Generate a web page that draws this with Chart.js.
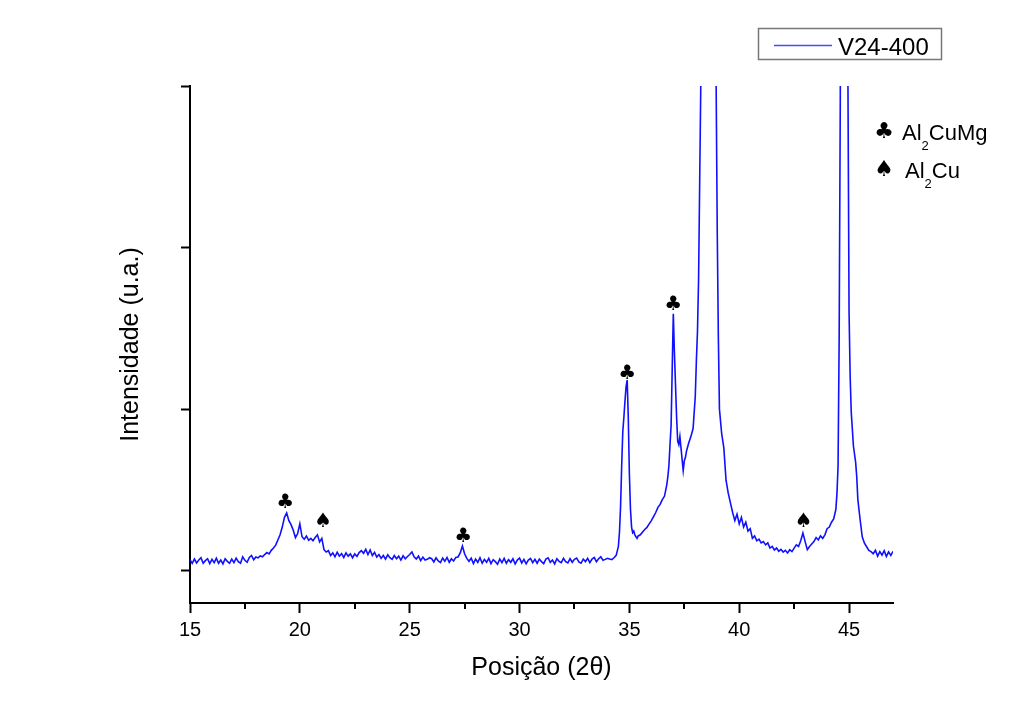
<!DOCTYPE html>
<html>
<head>
<meta charset="utf-8">
<title>V24-400</title>
<script src="https://cdn.jsdelivr.net/npm/chart.js@4.4.1/dist/chart.umd.min.js"></script>
<style>
  html, body { margin: 0; padding: 0; background: #ffffff; }
  #wrap { width: 1022px; height: 717px; }
</style>
</head>
<body>
<div id="wrap"><canvas id="xrd" width="1022" height="717"></canvas></div>
<script>
// Diffractogram of sample V24-400 (2θ in degrees, intensity in counts)
const twoTheta = [
  15.0, 15.1, 15.2, 15.3, 15.4, 15.5, 15.6, 15.7, 15.8, 15.9,
  16.0, 16.1, 16.2, 16.3, 16.4, 16.5, 16.6, 16.7, 16.8, 16.9,
  17.0, 17.1, 17.2, 17.3, 17.4, 17.5, 17.6, 17.7, 17.8, 17.9,
  18.0, 18.1, 18.2, 18.3, 18.4, 18.5, 18.6, 18.7, 18.8, 18.9,
  19.0, 19.1, 19.2, 19.3, 19.4, 19.5, 19.6, 19.7, 19.8, 19.9,
  20.0, 20.1, 20.2, 20.3, 20.4, 20.5, 20.6, 20.7, 20.8, 20.9,
  21.0, 21.1, 21.2, 21.3, 21.4, 21.5, 21.6, 21.7, 21.8, 21.9,
  22.0, 22.1, 22.2, 22.3, 22.4, 22.5, 22.6, 22.7, 22.8, 22.9,
  23.0, 23.1, 23.2, 23.3, 23.4, 23.5, 23.6, 23.7, 23.8, 23.9,
  24.0, 24.1, 24.2, 24.3, 24.4, 24.5, 24.6, 24.7, 24.8, 24.9,
  25.0, 25.1, 25.2, 25.3, 25.4, 25.5, 25.6, 25.7, 25.8, 25.9,
  26.0, 26.1, 26.2, 26.3, 26.4, 26.5, 26.6, 26.7, 26.8, 26.9,
  27.0, 27.1, 27.2, 27.3, 27.4, 27.5, 27.6, 27.7, 27.8, 27.9,
  28.0, 28.1, 28.2, 28.3, 28.4, 28.5, 28.6, 28.7, 28.8, 28.9,
  29.0, 29.1, 29.2, 29.3, 29.4, 29.5, 29.6, 29.7, 29.8, 29.9,
  30.0, 30.1, 30.2, 30.3, 30.4, 30.5, 30.6, 30.7, 30.8, 30.9,
  31.0, 31.1, 31.2, 31.3, 31.4, 31.5, 31.6, 31.7, 31.8, 31.9,
  32.0, 32.1, 32.2, 32.3, 32.4, 32.5, 32.6, 32.7, 32.8, 32.9,
  33.0, 33.1, 33.2, 33.3, 33.4, 33.5, 33.6, 33.7, 33.8, 33.9,
  34.0, 34.1, 34.2, 34.3, 34.4, 34.5, 34.55, 34.6, 34.65, 34.7,
  34.75, 34.8, 34.85, 34.9, 34.95, 35.0, 35.05, 35.1, 35.15, 35.2,
  35.25, 35.3, 35.35, 35.4, 35.5, 35.6, 35.7, 35.8, 35.9, 36.0,
  36.1, 36.2, 36.3, 36.4, 36.5, 36.6, 36.7, 36.75, 36.8, 36.85,
  36.9, 36.95, 37.0, 37.05, 37.1, 37.15, 37.2, 37.25, 37.3, 37.35,
  37.4, 37.45, 37.5, 37.55, 37.6, 37.7, 37.8, 37.9, 38.0, 38.05,
  38.1, 38.15, 38.2, 38.25, 38.3, 38.4, 38.5, 38.6, 38.7, 38.8,
  38.9, 38.95, 39.0, 39.05, 39.1, 39.2, 39.3, 39.4, 39.5, 39.6,
  39.7, 39.8, 39.9, 40.0, 40.1, 40.2, 40.3, 40.4, 40.5, 40.6,
  40.7, 40.8, 40.9, 41.0, 41.1, 41.2, 41.3, 41.4, 41.5, 41.6,
  41.7, 41.8, 41.9, 42.0, 42.1, 42.2, 42.3, 42.4, 42.5, 42.6,
  42.7, 42.8, 42.9, 43.0, 43.1, 43.2, 43.3, 43.4, 43.5, 43.6,
  43.7, 43.8, 43.9, 44.0, 44.1, 44.2, 44.3, 44.4, 44.45, 44.5,
  44.55, 44.6, 44.7, 44.8, 44.9, 44.95, 45.0, 45.05, 45.1, 45.2,
  45.3, 45.35, 45.4, 45.5, 45.6, 45.7, 45.8, 45.9, 46.0, 46.1,
  46.2, 46.3, 46.4, 46.5, 46.6, 46.7, 46.8, 46.9, 47.0
];
const intensity = [
  1068, 1045, 1072, 1048, 1066, 1080, 1046, 1062, 1074, 1044,
  1070, 1050, 1078, 1046, 1066, 1042, 1074, 1058, 1046, 1072,
  1050, 1078, 1056, 1046, 1086, 1064, 1052, 1082, 1094, 1068,
  1085, 1079, 1092, 1086, 1100, 1112, 1104, 1126, 1140, 1158,
  1190, 1222, 1270, 1330, 1357, 1310, 1285, 1250, 1205, 1230,
  1290, 1210, 1195, 1215, 1188, 1200, 1185, 1205, 1222, 1178,
  1200, 1130, 1116, 1124, 1094, 1110, 1086, 1114, 1090, 1106,
  1082, 1110, 1090, 1104, 1080, 1104, 1088, 1112, 1124, 1108,
  1132, 1100, 1128, 1094, 1114, 1084, 1100, 1076, 1094, 1072,
  1098, 1080, 1070, 1094, 1074, 1090, 1066, 1092, 1074, 1088,
  1100, 1116, 1086, 1072, 1090, 1062, 1084, 1066, 1070, 1080,
  1074, 1054, 1080, 1060, 1050, 1078, 1058, 1082, 1052, 1074,
  1060, 1082, 1085, 1110, 1153, 1105, 1076, 1058, 1078, 1044,
  1072, 1052, 1080, 1046, 1070, 1052, 1076, 1044, 1068, 1056,
  1040, 1072, 1050, 1076, 1046, 1068, 1052, 1074, 1042, 1066,
  1078, 1048, 1070, 1042, 1066, 1076, 1050, 1070, 1046, 1072,
  1056, 1044, 1072, 1080, 1052, 1066, 1042, 1074, 1058, 1050,
  1076, 1056, 1048, 1074, 1052, 1070, 1078, 1054, 1046, 1072,
  1056, 1076, 1050, 1072, 1082, 1056, 1074, 1086, 1064, 1070,
  1077, 1072, 1068, 1080, 1095, 1150, 1240, 1400, 1650, 1860,
  1950, 2050, 2140, 2180, 1950, 1600, 1380, 1270, 1235, 1245,
  1222, 1210, 1200, 1215, 1222, 1240, 1255, 1268, 1290, 1310,
  1335, 1360, 1392, 1410, 1440, 1462, 1530, 1580, 1650, 1780,
  1900, 2250, 2590, 2350, 2150, 1950, 1800, 1780, 1830, 1760,
  1690, 1620, 1680, 1700, 1740, 1790, 1830, 1880, 2080, 2300,
  2480, 2800, 3400, 4000, 5500, 9000, 13000, 12000, 8500, 6000,
  4600, 4000, 3100, 2450, 2000, 1850, 1760, 1560, 1480, 1420,
  1360, 1310, 1350, 1290, 1330, 1270, 1300, 1245, 1260, 1200,
  1215, 1185, 1195, 1172, 1180, 1160, 1172, 1140, 1150, 1128,
  1140, 1120, 1132, 1115, 1126, 1110, 1130, 1118, 1140, 1160,
  1150, 1185, 1233, 1180, 1130, 1150, 1165, 1180, 1205, 1190,
  1215, 1200, 1222, 1260, 1270, 1300, 1320, 1380, 1480, 1650,
  2450, 3900, 9000, 11000, 6000, 4000, 2600, 2200, 1980, 1770,
  1670, 1580, 1440, 1320, 1210, 1170, 1148, 1125, 1118, 1105,
  1126, 1090, 1118, 1096, 1124, 1088, 1116, 1094, 1120
];

// Phase identification marks: ♣ = Al2CuMg, ♠ = Al2Cu
const phaseAngle = [19.33, 21.06, 27.44, 34.9, 37.0, 42.94];
const phaseLevel = [1419, 1301, 1209, 2217, 2645, 1301];
const phaseSymbol = ['\u2663', '\u2660', '\u2663', '\u2663', '\u2663', '\u2660'];

const xTicks = [15, 20, 25, 30, 35, 40, 45];
const xMinorTicks = [17.5, 22.5, 27.5, 32.5, 37.5, 42.5];
const yTicks = [1000, 2000, 3000, 4000];

const seriesLabel = 'V24-400';
const LINE_COLOR = '#1010ff';
const FONT = '"Liberation Sans", Arial, sans-serif';
const SYMBOL_FONT = '"DejaVu Sans", sans-serif';

const points = twoTheta.map((t, i) => ({ x: t, y: intensity[i] }));

// Extra drawing: minor x ticks, phase symbols and the two legend boxes
const decorations = {
  id: 'decorations',
  beforeDraw(chart) {
    const ctx = chart.ctx;
    ctx.save();
    ctx.fillStyle = '#ffffff';
    ctx.fillRect(0, 0, chart.width, chart.height);
    ctx.restore();
  },
  afterDraw(chart) {
    const ctx = chart.ctx;
    const xs = chart.scales.x;
    const ys = chart.scales.y;
    const area = chart.chartArea;
    ctx.save();

    // minor ticks
    ctx.strokeStyle = '#000';
    ctx.lineWidth = 2;
    xMinorTicks.forEach(v => {
      const px = Math.round(xs.getPixelForValue(v));
      ctx.beginPath();
      ctx.moveTo(px, area.bottom);
      ctx.lineTo(px, area.bottom + 6);
      ctx.stroke();
    });

    // phase symbols above the peaks
    ctx.fillStyle = '#000';
    ctx.textAlign = 'center';
    ctx.textBaseline = 'middle';
    ctx.font = '20px ' + SYMBOL_FONT;
    phaseAngle.forEach((a, i) => {
      ctx.fillText(phaseSymbol[i], xs.getPixelForValue(a), ys.getPixelForValue(phaseLevel[i]));
    });

    // series legend
    ctx.strokeStyle = '#777';
    ctx.lineWidth = 1.5;
    ctx.strokeRect(758.5, 28.5, 183, 31);
    ctx.strokeStyle = '#4848ff';
    ctx.lineWidth = 1.5;
    ctx.beginPath();
    ctx.moveTo(774, 45.5);
    ctx.lineTo(832, 45.5);
    ctx.stroke();
    ctx.fillStyle = '#000';
    ctx.textAlign = 'left';
    ctx.textBaseline = 'alphabetic';
    ctx.font = '24px ' + FONT;
    ctx.fillText(seriesLabel, 838, 55);

    // phase key
    const keys = [
      { sym: '\u2663', pre: 'Al', sub: '2', post: 'CuMg', y: 140 },
      { sym: '\u2660', pre: 'Al', sub: '2', post: 'Cu', y: 178 }
    ];
    keys.forEach((k, i) => {
      ctx.font = '22px ' + SYMBOL_FONT;
      ctx.textAlign = 'center';
      ctx.fillText(k.sym, 884, k.y - 2);
      ctx.textAlign = 'left';
      let x = i === 0 ? 902 : 905;
      ctx.font = '22px ' + FONT;
      ctx.fillText(k.pre, x, k.y);
      x += ctx.measureText(k.pre).width;
      ctx.font = '13px ' + FONT;
      ctx.fillText(k.sub, x, k.y + 10);
      x += ctx.measureText(k.sub).width;
      ctx.font = '22px ' + FONT;
      ctx.fillText(k.post, x, k.y);
    });

    ctx.restore();
  }
};

new Chart(document.getElementById('xrd'), {
  type: 'line',
  data: {
    datasets: [{
      label: seriesLabel,
      data: points,
      borderColor: LINE_COLOR,
      borderWidth: 1.6,
      pointRadius: 0,
      tension: 0,
      fill: false
    }]
  },
  options: {
    responsive: false,
    animation: false,
    events: [],
    layout: { padding: { left: 0, top: 86, right: 129, bottom: 0 } },
    plugins: {
      legend: { display: false },
      tooltip: { enabled: false }
    },
    scales: {
      x: {
        type: 'linear',
        min: 15,
        max: 47,
        afterFit(scale) { scale.height = 114; },
        afterBuildTicks(scale) { scale.ticks = xTicks.map(v => ({ value: v })); },
        border: { display: true, color: '#000', width: 2 },
        grid: { drawOnChartArea: false, drawTicks: true, tickLength: 10, tickColor: '#000', tickWidth: 2 },
        ticks: { color: '#000', padding: 5, font: { family: FONT, size: 20 } },
        title: {
          display: true,
          text: 'Posição (2θ)',
          color: '#000',
          font: { family: FONT, size: 25 },
          padding: { top: 0, bottom: 34 }
        }
      },
      y: {
        type: 'linear',
        min: 800,
        max: 4000,
        afterFit(scale) { scale.width = 190; },
        afterBuildTicks(scale) { scale.ticks = yTicks.map(v => ({ value: v })); },
        border: { display: true, color: '#000', width: 2 },
        grid: { drawOnChartArea: false, drawTicks: true, tickLength: 9, tickColor: '#000', tickWidth: 2 },
        ticks: { display: false },
        title: {
          display: true,
          text: 'Intensidade (u.a.)',
          color: '#000',
          font: { family: FONT, size: 25 },
          padding: { top: 116, bottom: 0 }
        }
      }
    }
  },
  plugins: [decorations]
});
</script>
</body>
</html>
